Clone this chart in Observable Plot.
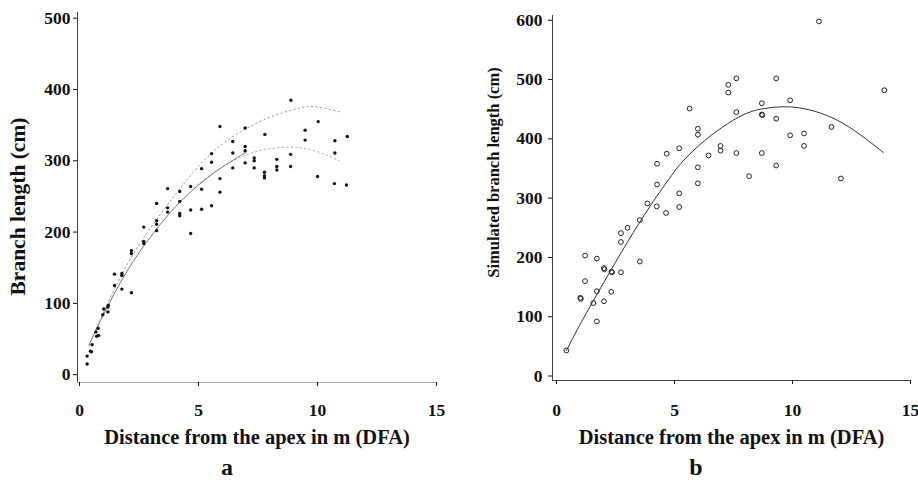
<!DOCTYPE html>
<html><head><meta charset="utf-8">
<script src="https://cdn.jsdelivr.net/npm/d3@7"></script>
<script src="https://cdn.jsdelivr.net/npm/@observablehq/plot@0.6"></script>
<style>
html,body{margin:0;padding:0;background:#fff;}
#wrap{display:flex;width:918px;height:480px;}
#wrap > div{width:459px;height:480px;}
svg{overflow:visible}
</style></head><body><div id="wrap"><div id="pa"></div><div id="pb"></div></div>
<script>
// ---------- data ----------
const xTicks = [0, 5, 10, 15];
const leftYTicks = [0, 100, 200, 300, 400, 500];
const rightYTicks = [0, 100, 200, 300, 400, 500, 600];
const xTitle = "Distance from the apex in m (DFA)";
const leftYTitle = "Branch length (cm)";
const rightYTitle = "Simulated branch length (cm)";
const panelLetters = ["a", "b"];

// panel a: measured branches [DFA (m), length (cm)]
const leftPoints = [
  [0.32,15],[0.32,26],[0.46,33],[0.5,32],[0.53,42],[0.72,54],[0.8,55],[0.69,60],[0.78,65],
  [0.98,84],[1.02,92],[1.19,88],[1.19,95],[1.21,97],[1.47,141],[1.47,125],[1.78,142],[1.78,139],
  [1.78,120],[2.18,115],[2.18,174],[2.18,170],[2.7,207],[2.7,187],[2.7,184],[3.24,240],[3.24,216],
  [3.24,211],[3.24,202],[3.7,261],[3.7,234],[3.7,228],[4.21,257],[4.21,243],[4.21,226],[4.21,223],
  [4.67,264],[4.67,231],[4.67,198],[5.13,289],[5.13,260],[5.13,232],[5.55,310],[5.55,298],[5.55,237],
  [5.9,348],[5.9,275],[5.9,256],[6.44,327],[6.44,311],[6.44,290],[6.96,346],[6.96,320],[6.96,314],
  [6.96,297],[7.34,304],[7.34,300],[7.34,290],[7.79,337],[7.77,284],[7.77,279],[7.77,276],[8.29,302],
  [8.29,292],[8.29,287],[8.88,385],[8.87,309],[8.87,292],[9.48,343],[9.48,329],[10.03,355],[10.0,278],
  [10.73,328],[10.73,311],[10.71,268],[11.25,334],[11.22,266]
];
// panel a curves
const leftFit = [[0.4,42],[1,85],[2,148],[3,195],[4,236],[5,267],[6,292],[7,312]];
const leftUpper = [[0.4,40],[1,88],[2,158],[3,207],[4,252],[5,294],[6,325],[7,346],[8,362],[9,372],[9.6,377],[10.2,375],[11,368]];
const leftLower = [[4.8,262],[5.9,291],[6.9,308],[7.8,317],[8.9,320],[9.6,317],[10.3,310],[10.9,300]];

// panel b: simulated branches
const rightPoints = [
  [0.42,43],[1.01,132],[1.03,130],[1.21,203],[1.21,160],[1.71,198],[1.71,143],[1.71,92],[1.56,123],
  [2.01,182],[2.03,180],[2.01,126],[2.33,176],[2.35,175],[2.32,142],[2.73,175],[2.73,226],[2.73,241],
  [3.01,250],[3.53,193],[3.53,263],[3.85,291],[4.25,286],[4.64,275],[5.2,308],[5.2,285],[4.26,358],
  [4.26,323],[4.67,375],[5.2,384],[5.64,451],[5.99,417],[5.99,407],[5.99,352],[5.99,325],[6.44,372],
  [6.95,388],[6.95,380],[7.28,491],[7.28,478],[7.62,502],[7.62,445],[7.62,376],[8.16,337],[8.7,460],
  [8.7,441],[8.72,440],[8.7,376],[9.31,502],[9.31,434],[9.31,355],[9.9,465],[9.9,406],[10.49,409],
  [10.49,388],[11.12,598],[11.65,420],[12.05,333],[13.89,482]
];
const rightFit = [[0.42,43],[1,88],[2,158],[3,226],[4,290],[5,345],[5.24,358],[6,389],[7,420],[8,444],
  [8.7,451],[9.5,455],[10.3,453],[11.15,445],[12.14,428],[13.12,400],[13.85,377]];

// ---------- drawing ----------
const FONT = "'Liberation Serif', 'Times New Roman', serif";

function panel({xDomain, yDomain, mL, mR, mT, mB, yTicks, yPad, xPad, xAxisColor, yTitle, yTitleSize, yTitleDx, yTitleDy, letter, letterDx, letterDy, titleDy, marks}) {
  return Plot.plot({
    width: 459, height: 480,
    marginLeft: mL, marginRight: mR, marginTop: mT, marginBottom: mB,
    x: {domain: xDomain},
    y: {domain: yDomain},
    style: {fontFamily: FONT, fontWeight: "bold", fontSize: "17.5px", color: "#111", background: "#fff"},
    marks: [
      Plot.ruleX([xDomain[0]], {y1: yDomain[0], y2: yDomain[1], stroke: "#444", strokeWidth: 1}),
      Plot.ruleY([yDomain[0]], {x1: xDomain[0], x2: 15.05, stroke: xAxisColor, strokeWidth: 1}),
      Plot.axisY({ticks: yTicks, tickSize: 4, tickPadding: yPad, label: null, tickFormat: d => String(d),
        fontWeight: "bold", fontSize: 17.5, fontFamily: FONT}),
      Plot.axisX({ticks: xTicks, tickSize: 4, tickPadding: xPad, label: null, tickFormat: d => String(d),
        fontWeight: "bold", fontSize: 17.5, fontFamily: FONT}),
      ...marks,
      Plot.text([xTitle], {frameAnchor: "bottom", lineAnchor: "middle", textAnchor: "middle", dy: titleDy,
        fontSize: 20.5, fontWeight: "bold", fontFamily: FONT}),
      Plot.text([yTitle], {frameAnchor: "left", lineAnchor: "middle", textAnchor: "middle", dx: yTitleDx, dy: yTitleDy,
        rotate: -90, fontSize: yTitleSize, fontWeight: "bold", fontFamily: FONT}),
      Plot.text([letter], {frameAnchor: "bottom", lineAnchor: "middle", textAnchor: "middle", dx: letterDx, dy: letterDy,
        fontSize: 24, fontWeight: "bold", fontFamily: FONT})
    ]
  });
}

const a = panel({
  xDomain: [-0.085, 15], yDomain: [-11, 508], mL: 77, mR: 23, mT: 12, mB: 98,
  yTicks: leftYTicks, yPad: 3, xPad: 17, xAxisColor: "#aaa",
  yTitle: leftYTitle, yTitleSize: 21.5, yTitleDx: -59, yTitleDy: 9,
  letter: panelLetters[0], letterDx: -30, letterDy: 85, titleDy: 55,
  marks: [
    Plot.line(leftUpper, {x: d => d[0], y: d => d[1], stroke: "#999", strokeWidth: 1, strokeDasharray: "1.5,3", curve: "basis"}),
    Plot.line(leftLower, {x: d => d[0], y: d => d[1], stroke: "#aaa", strokeWidth: 1, strokeDasharray: "1.5,3", curve: "basis"}),
    Plot.line(leftFit, {x: d => d[0], y: d => d[1], stroke: "#777", strokeWidth: 1, curve: "basis"}),
    Plot.dot(leftPoints, {x: d => d[0], y: d => d[1], r: 1.7, fill: "#111", stroke: "none"})
  ]
});

const b = panel({
  xDomain: [-0.17, 15], yDomain: [-7.6, 608], mL: 93, mR: 8, mT: 15, mB: 100,
  yTicks: rightYTicks, yPad: 6, xPad: 19, xAxisColor: "#444",
  yTitle: rightYTitle, yTitleSize: 16.5, yTitleDx: -59, yTitleDy: -25.5,
  letter: panelLetters[1], letterDx: -35.5, letterDy: 87, titleDy: 57,
  marks: [
    Plot.line(rightFit, {x: d => d[0], y: d => d[1], stroke: "#333", strokeWidth: 1, curve: "basis"}),
    Plot.dot(rightPoints, {x: d => d[0], y: d => d[1], r: 2.4, fill: "none", stroke: "#222", strokeWidth: 1})
  ]
});

document.getElementById("pa").appendChild(a);
document.getElementById("pb").appendChild(b);
</script></body></html>
